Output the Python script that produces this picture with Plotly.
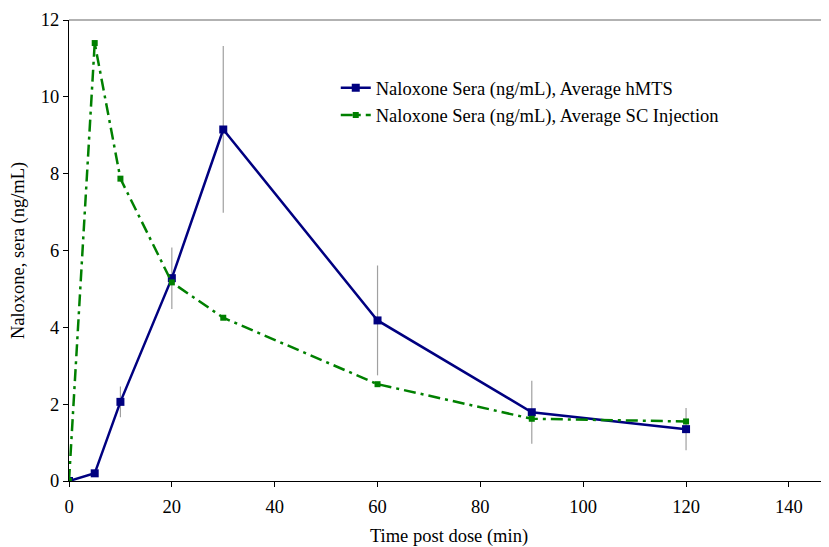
import plotly.graph_objects as go

time_min = [0, 5, 10, 20, 30, 60, 90, 120]
hmts_avg = [0.0, 0.2, 2.06, 5.28, 9.15, 4.18, 1.79, 1.35]
hmts_err = [0.0, 0.0, 0.4, 0.8, 2.17, 1.43, 0.82, 0.55]
sc_avg = [0.0, 11.4, 7.87, 5.17, 4.25, 2.52, 1.62, 1.55]

x_ticks = [0, 20, 40, 60, 80, 100, 120, 140]
y_ticks = [0, 2, 4, 6, 8, 10, 12]

FONT = "Liberation Serif"
FS = 18.5

fig = go.Figure()
fig.add_trace(go.Scatter(
    x=time_min, y=hmts_avg, mode="lines+markers",
    name="Naloxone Sera (ng/mL), Average hMTS", legendgroup="a",
    line=dict(color="#000080", width=2.5),
    marker=dict(symbol="square", size=8, color="#000080"),
    error_y=dict(type="data", array=hmts_err, visible=True,
                 color="#a0a0a0", thickness=1.2, width=0),
))
fig.add_trace(go.Scatter(
    x=time_min, y=sc_avg, mode="lines+markers",
    name="Naloxone Sera (ng/mL), Average SC Injection", legendgroup="b",
    line=dict(color="#008000", width=2.5, dash="12px,5px,3px,5px"),
    marker=dict(symbol="square", size=6, color="#008000"),
))

# page body has an 8px default margin; size figure so the plot lands where the reference has it
fig.update_layout(
    width=821, height=539,
    margin=dict(l=61, r=0, t=12, b=66),
    paper_bgcolor="white", plot_bgcolor="white",
    font=dict(family=FONT, size=FS, color="black"),
    showlegend=True,
    legend=dict(x=0.351, y=0.893, xanchor="left", yanchor="top",
                bgcolor="rgba(0,0,0,0)", font=dict(family=FONT, size=FS),
                tracegroupgap=0),
    xaxis=dict(range=[0, 147.8], tickvals=x_ticks, ticks="outside", ticklen=5,
               tickcolor="black", showgrid=False, zeroline=False,
               showline=True, linecolor="black", linewidth=1,
               ticklabelstandoff=4,
               tickfont=dict(family=FONT, size=FS),
               title=dict(text="Time post dose (min)", font=dict(family=FONT, size=FS), standoff=18)),
    yaxis=dict(range=[0, 12], tickvals=y_ticks, ticks="outside", ticklen=5,
               tickcolor="black", showgrid=False, zeroline=False,
               showline=True, linecolor="black", linewidth=1,
               tickfont=dict(family=FONT, size=FS),
               title=dict(text="Naloxone, sera (ng/mL)", font=dict(family=FONT, size=FS), standoff=12)),
)
fig.add_shape(type="line", xref="paper", yref="paper", x0=0, x1=1, y0=1, y1=1,
              line=dict(color="#999999", width=1.5))

fig.write_html("out.html")
